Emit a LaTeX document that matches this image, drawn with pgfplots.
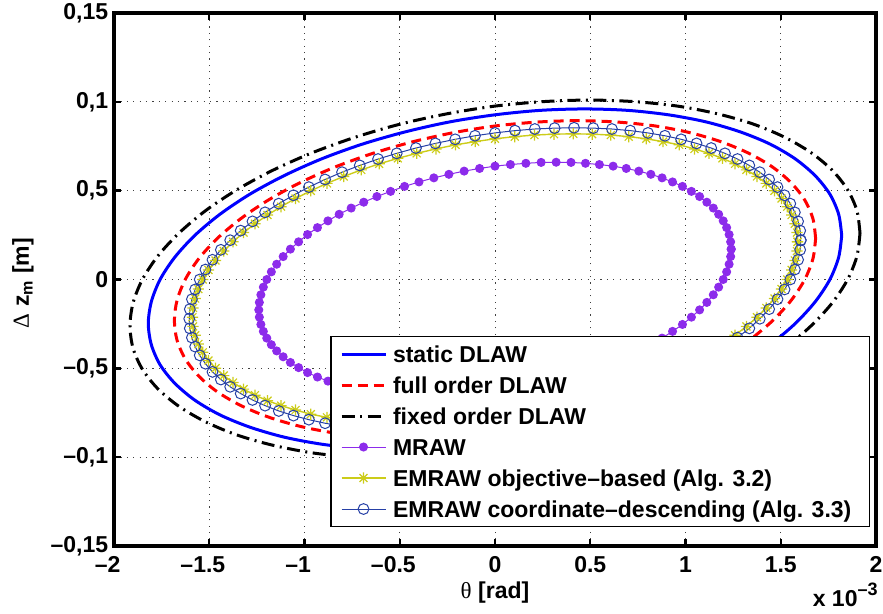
\documentclass[border=0pt]{standalone}
\usepackage{fontspec}
\setmainfont{Liberation Sans}
\newfontfamily\symfont{Liberation Serif}
\usepackage{pgfplots}
\pgfplotsset{compat=1.18}
\definecolor{mraw}{rgb}{0.55,0.17,0.92}
\definecolor{emobj}{rgb}{0.8,0.8,0.1}
\definecolor{emcoord}{rgb}{0.15,0.25,0.65}
\pgfdeclareplotmark{ast8}{%
  \pgfpathmoveto{\pgfqpoint{-\pgfplotmarksize}{0pt}}\pgfpathlineto{\pgfqpoint{\pgfplotmarksize}{0pt}}%
  \pgfpathmoveto{\pgfqpoint{0pt}{-\pgfplotmarksize}}\pgfpathlineto{\pgfqpoint{0pt}{\pgfplotmarksize}}%
  \pgfpathmoveto{\pgfqpoint{-0.707\pgfplotmarksize}{-0.707\pgfplotmarksize}}\pgfpathlineto{\pgfqpoint{0.707\pgfplotmarksize}{0.707\pgfplotmarksize}}%
  \pgfpathmoveto{\pgfqpoint{-0.707\pgfplotmarksize}{0.707\pgfplotmarksize}}\pgfpathlineto{\pgfqpoint{0.707\pgfplotmarksize}{-0.707\pgfplotmarksize}}%
  \pgfusepathqstroke}
\newcommand{\lf}{\fontsize{11.5}{13}\selectfont\bfseries}
\begin{document}
\begin{tikzpicture}
\path[use as bounding box] (-57pt,-34pt) rectangle (384.5pt,273pt);
\begin{axis}[
  name=ax, at={(0,0)}, anchor=south west,
  scale only axis, width=381pt, height=266.5pt,
  xmin=-2, xmax=2, ymin=-0.15, ymax=0.15,
  xtick={-2,-1.5,-1,-0.5,0,0.5,1,1.5,2},
  xticklabels={{\llap{–}2},{\llap{–}1.5},{\llap{–}1},{\llap{–}0.5},{0},{0.5},{1},{1.5},{2}},
  ytick={-0.15,-0.1,-0.05,0,0.05,0.1,0.15},
  yticklabels={{–0,15},{–0,1},{–0,5},{0},{0,5},{0,1},{0,15}},
  tick align=inside, major tick length=3.5pt,
  tick style={line width=1.2pt, black},
  axis line style={line width=1.6pt},
  grid=major,
  grid style={line width=0.5pt, black!75, dash pattern=on 0.6pt off 2.6pt},
  ticklabel style={font=\lf},
  yticklabel style={inner xsep=2.75pt},
  xticklabel style={inner ysep=5.2pt},
  legend style={at={(0.9921,0.0356)}, anchor=south east, draw=black, line width=0.6pt, fill=white,
    font=\lf, inner xsep=4.5pt, inner ysep=3.2pt, row sep=4.5pt, column sep=3pt,
    nodes={inner sep=0pt, text height=9.5pt, text depth=1.5pt}},
  legend cell align=left,
  legend image code/.code={\draw[mark repeat=2,mark phase=2,#1] plot coordinates {(0pt,0pt) (11pt,0pt) (22pt,0pt)};},
]
\addplot[color=blue, line width=1.5pt, smooth] coordinates {
(1.820,0.0248) (1.804,0.0367) (1.758,0.0480) (1.681,0.0584) (1.576,0.0679) (1.444,0.0762) (1.287,0.0831) (1.108,0.0887) (0.910,0.0927) (0.696,0.0952) (0.471,0.0960) (0.238,0.0952) (0,0.0927) (-0.238,0.0887) (-0.471,0.0831) (-0.696,0.0762) (-0.910,0.0679) (-1.108,0.0584) (-1.287,0.0480) (-1.444,0.0367) (-1.576,0.0248) (-1.681,0.0125) (-1.758,0) (-1.804,-0.0125)
(-1.820,-0.0248) (-1.804,-0.0367) (-1.758,-0.0480) (-1.681,-0.0584) (-1.576,-0.0679) (-1.444,-0.0762) (-1.287,-0.0831) (-1.108,-0.0887) (-0.910,-0.0927) (-0.696,-0.0952) (-0.471,-0.0960) (-0.238,-0.0952) (0,-0.0927) (0.238,-0.0887) (0.471,-0.0831) (0.696,-0.0762) (0.910,-0.0679) (1.108,-0.0584) (1.287,-0.0480) (1.444,-0.0367) (1.576,-0.0248) (1.681,-0.0125) (1.758,0) (1.804,0.0125) (1.820,0.0248)};
\addlegendentry{static DLAW}
\addplot[color=red, line width=1.5pt, dash pattern=on 5pt off 3pt, smooth] coordinates {
(1.683,0.0231) (1.669,0.0342) (1.626,0.0447) (1.555,0.0544) (1.458,0.0632) (1.335,0.0709) (1.190,0.0774) (1.025,0.0826) (0.842,0.0864) (0.644,0.0886) (0.436,0.0894) (0.220,0.0886) (0,0.0864) (-0.220,0.0826) (-0.436,0.0774) (-0.644,0.0709) (-0.842,0.0632) (-1.025,0.0544) (-1.190,0.0447) (-1.335,0.0342) (-1.458,0.0231) (-1.555,0.0117) (-1.626,0) (-1.669,-0.0117)
(-1.683,-0.0231) (-1.669,-0.0342) (-1.626,-0.0447) (-1.555,-0.0544) (-1.458,-0.0632) (-1.335,-0.0709) (-1.190,-0.0774) (-1.025,-0.0826) (-0.842,-0.0864) (-0.644,-0.0886) (-0.436,-0.0894) (-0.220,-0.0886) (0,-0.0864) (0.220,-0.0826) (0.436,-0.0774) (0.644,-0.0709) (0.842,-0.0632) (1.025,-0.0544) (1.190,-0.0447) (1.335,-0.0342) (1.458,-0.0231) (1.555,-0.0117) (1.626,0) (1.669,0.0117) (1.683,0.0231)};
\addlegendentry{full order DLAW}
\addplot[color=black, line width=1.5pt, dash pattern=on 6.5pt off 2.75pt on 1pt off 2.75pt, smooth] coordinates {
(1.916,0.0261) (1.900,0.0387) (1.851,0.0505) (1.770,0.0615) (1.659,0.0714) (1.520,0.0801) (1.355,0.0875) (1.166,0.0933) (0.958,0.0976) (0.733,0.1001) (0.496,0.1010) (0.250,0.1001) (0,0.0976) (-0.250,0.0933) (-0.496,0.0875) (-0.733,0.0801) (-0.958,0.0714) (-1.166,0.0615) (-1.355,0.0505) (-1.520,0.0387) (-1.659,0.0261) (-1.770,0.0132) (-1.851,0) (-1.900,-0.0132)
(-1.916,-0.0261) (-1.900,-0.0387) (-1.851,-0.0505) (-1.770,-0.0615) (-1.659,-0.0714) (-1.520,-0.0801) (-1.355,-0.0875) (-1.166,-0.0933) (-0.958,-0.0976) (-0.733,-0.1001) (-0.496,-0.1010) (-0.250,-0.1001) (0,-0.0976) (0.250,-0.0933) (0.496,-0.0875) (0.733,-0.0801) (0.958,-0.0714) (1.166,-0.0615) (1.355,-0.0505) (1.520,-0.0387) (1.659,-0.0261) (1.770,-0.0132) (1.851,0) (1.900,0.0132) (1.916,0.0261)};
\addlegendentry{fixed order DLAW}
\addplot[color=mraw, line width=0.5pt, mark=*, mark size=2pt, mark options={solid, fill=mraw}] coordinates {
(1.240,0.0171) (1.237,0.0212) (1.229,0.0253) (1.216,0.0292) (1.198,0.0330) (1.174,0.0367) (1.146,0.0402) (1.112,0.0435) (1.074,0.0467) (1.031,0.0496) (0.984,0.0524) (0.932,0.0549) (0.877,0.0572) (0.818,0.0592) (0.755,0.0610) (0.689,0.0625) (0.620,0.0638) (0.548,0.0647) (0.475,0.0654) (0.399,0.0659) (0.321,0.0660) (0.242,0.0659) (0.162,0.0654) (0.081,0.0647) (0,0.0638) (-0.081,0.0625) (-0.162,0.0610) (-0.242,0.0592) (-0.321,0.0572) (-0.399,0.0549) (-0.475,0.0524) (-0.548,0.0496) (-0.620,0.0467) (-0.689,0.0435) (-0.755,0.0402) (-0.818,0.0367) (-0.877,0.0330) (-0.932,0.0292) (-0.984,0.0253) (-1.031,0.0212) (-1.074,0.0171) (-1.112,0.0129) (-1.146,0.0086) (-1.174,0.0043) (-1.198,0) (-1.216,-0.0043) (-1.229,-0.0086) (-1.237,-0.0129)
(-1.240,-0.0171) (-1.237,-0.0212) (-1.229,-0.0253) (-1.216,-0.0292) (-1.198,-0.0330) (-1.174,-0.0367) (-1.146,-0.0402) (-1.112,-0.0435) (-1.074,-0.0467) (-1.031,-0.0496) (-0.984,-0.0524) (-0.932,-0.0549) (-0.877,-0.0572) (-0.818,-0.0592) (-0.755,-0.0610) (-0.689,-0.0625) (-0.620,-0.0638) (-0.548,-0.0647) (-0.475,-0.0654) (-0.399,-0.0659) (-0.321,-0.0660) (-0.242,-0.0659) (-0.162,-0.0654) (-0.081,-0.0647) (0,-0.0638) (0.081,-0.0625) (0.162,-0.0610) (0.242,-0.0592) (0.321,-0.0572) (0.399,-0.0549) (0.475,-0.0524) (0.548,-0.0496) (0.620,-0.0467) (0.689,-0.0435) (0.755,-0.0402) (0.818,-0.0367) (0.877,-0.0330) (0.932,-0.0292) (0.984,-0.0253) (1.031,-0.0212) (1.074,-0.0171) (1.112,-0.0129) (1.146,-0.0086) (1.174,-0.0043) (1.198,0) (1.216,0.0043) (1.229,0.0086) (1.237,0.0129) (1.240,0.0171)};
\addlegendentry{MRAW}
\addplot[color=emobj, line width=0.7pt, mark=ast8, mark size=2.8pt, mark options={solid, line width=0.6pt}] coordinates {
(1.588,0.0212) (1.585,0.0264) (1.574,0.0314) (1.557,0.0363) (1.534,0.0410) (1.504,0.0456) (1.467,0.0499) (1.424,0.0541) (1.375,0.0580) (1.320,0.0617) (1.260,0.0651) (1.194,0.0682) (1.123,0.0710) (1.047,0.0735) (0.967,0.0758) (0.882,0.0776) (0.794,0.0792) (0.702,0.0804) (0.608,0.0813) (0.510,0.0818) (0.411,0.0820) (0.310,0.0818) (0.207,0.0813) (0.104,0.0804) (0,0.0792) (-0.104,0.0776) (-0.207,0.0758) (-0.310,0.0735) (-0.411,0.0710) (-0.510,0.0682) (-0.608,0.0651) (-0.702,0.0617) (-0.794,0.0580) (-0.882,0.0541) (-0.967,0.0499) (-1.047,0.0456) (-1.123,0.0410) (-1.194,0.0363) (-1.260,0.0314) (-1.320,0.0264) (-1.375,0.0212) (-1.424,0.0160) (-1.467,0.0107) (-1.504,0.0054) (-1.534,0) (-1.557,-0.0054) (-1.574,-0.0107) (-1.585,-0.0160)
(-1.588,-0.0212) (-1.585,-0.0264) (-1.574,-0.0314) (-1.557,-0.0363) (-1.534,-0.0410) (-1.504,-0.0456) (-1.467,-0.0499) (-1.424,-0.0541) (-1.375,-0.0580) (-1.320,-0.0617) (-1.260,-0.0651) (-1.194,-0.0682) (-1.123,-0.0710) (-1.047,-0.0735) (-0.967,-0.0758) (-0.882,-0.0776) (-0.794,-0.0792) (-0.702,-0.0804) (-0.608,-0.0813) (-0.510,-0.0818) (-0.411,-0.0820) (-0.310,-0.0818) (-0.207,-0.0813) (-0.104,-0.0804) (0,-0.0792) (0.104,-0.0776) (0.207,-0.0758) (0.310,-0.0735) (0.411,-0.0710) (0.510,-0.0682) (0.608,-0.0651) (0.702,-0.0617) (0.794,-0.0580) (0.882,-0.0541) (0.967,-0.0499) (1.047,-0.0456) (1.123,-0.0410) (1.194,-0.0363) (1.260,-0.0314) (1.320,-0.0264) (1.375,-0.0212) (1.424,-0.0160) (1.467,-0.0107) (1.504,-0.0054) (1.534,0) (1.557,0.0054) (1.574,0.0107) (1.585,0.0160) (1.588,0.0212)};
\addlegendentry{EMRAW objective–based (Alg. 3.2)}
\addplot[color=emcoord, line width=0.5pt, mark=o, mark size=2.7pt, mark options={solid}] coordinates {
(1.605,0.0221) (1.602,0.0275) (1.591,0.0327) (1.574,0.0378) (1.550,0.0427) (1.520,0.0474) (1.483,0.0520) (1.439,0.0563) (1.390,0.0604) (1.335,0.0642) (1.273,0.0678) (1.207,0.0710) (1.135,0.0740) (1.058,0.0766) (0.977,0.0789) (0.892,0.0809) (0.803,0.0825) (0.710,0.0838) (0.614,0.0847) (0.516,0.0852) (0.415,0.0854) (0.313,0.0852) (0.209,0.0847) (0.105,0.0838) (0,0.0825) (-0.105,0.0809) (-0.209,0.0789) (-0.313,0.0766) (-0.415,0.0740) (-0.516,0.0710) (-0.614,0.0678) (-0.710,0.0642) (-0.803,0.0604) (-0.892,0.0563) (-0.977,0.0520) (-1.058,0.0474) (-1.135,0.0427) (-1.207,0.0378) (-1.273,0.0327) (-1.335,0.0275) (-1.390,0.0221) (-1.439,0.0167) (-1.483,0.0111) (-1.520,0.0056) (-1.550,0) (-1.574,-0.0056) (-1.591,-0.0111) (-1.602,-0.0167)
(-1.605,-0.0221) (-1.602,-0.0275) (-1.591,-0.0327) (-1.574,-0.0378) (-1.550,-0.0427) (-1.520,-0.0474) (-1.483,-0.0520) (-1.439,-0.0563) (-1.390,-0.0604) (-1.335,-0.0642) (-1.273,-0.0678) (-1.207,-0.0710) (-1.135,-0.0740) (-1.058,-0.0766) (-0.977,-0.0789) (-0.892,-0.0809) (-0.803,-0.0825) (-0.710,-0.0838) (-0.614,-0.0847) (-0.516,-0.0852) (-0.415,-0.0854) (-0.313,-0.0852) (-0.209,-0.0847) (-0.105,-0.0838) (0,-0.0825) (0.105,-0.0809) (0.209,-0.0789) (0.313,-0.0766) (0.415,-0.0740) (0.516,-0.0710) (0.614,-0.0678) (0.710,-0.0642) (0.803,-0.0604) (0.892,-0.0563) (0.977,-0.0520) (1.058,-0.0474) (1.135,-0.0427) (1.207,-0.0378) (1.273,-0.0327) (1.335,-0.0275) (1.390,-0.0221) (1.439,-0.0167) (1.483,-0.0111) (1.520,-0.0056) (1.550,0) (1.574,0.0056) (1.591,0.0111) (1.602,0.0167) (1.605,0.0221)};
\addlegendentry{EMRAW coordinate–descending (Alg. 3.3)\hspace*{4.5pt}}
\end{axis}
\node[rotate=90, font=\lf] at (-45.5pt,131.5pt) {{\symfont\mdseries Δ} z\textsubscript{m} [m]};
\node[font=\lf] at (190.5pt,-23.5pt) {{\symfont\mdseries θ} [rad]};
\node[anchor=base east, font=\lf, inner sep=0pt] at (382pt,-30.5pt) {x 10\raisebox{5.5pt}{\fontsize{9}{10}\selectfont –3}};
\end{tikzpicture}
\end{document}
